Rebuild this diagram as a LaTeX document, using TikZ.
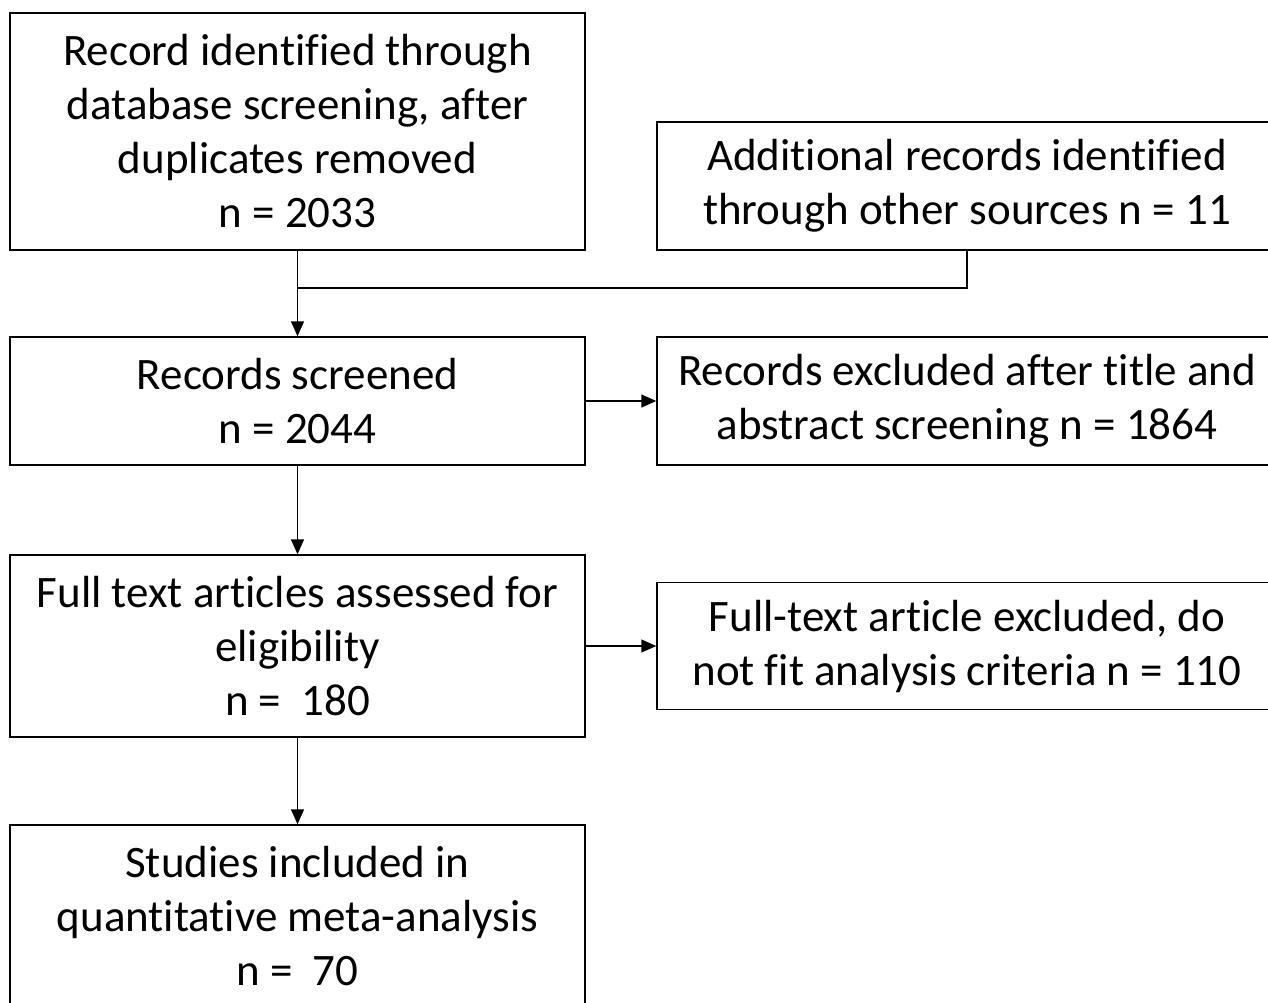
\documentclass[tikz,border=0pt]{standalone}
\usepackage{fontspec}
\setmainfont[Ligatures={NoCommon,NoContextual},RawFeature={-liga;-clig;-calt;-rlig}]{Carlito}
\usetikzlibrary{arrows.meta}
\tikzset{
  stage/.style={draw, line width=1.5pt, align=center, inner sep=0pt,
    font=\fontsize{45}{54}\selectfont},
  leftbox/.style={stage, minimum width=575pt},
  rightbox/.style={stage, minimum width=620pt},
  flow/.style={line width=1.5pt, -{Triangle[length=15pt,width=13pt]}}
}
\begin{document}
\begin{tikzpicture}[x=1pt,y=-1pt]
			%%%%% START %%%%%
			\useasboundingbox (0,0) rectangle (1268,1002);
			\clip (0,0) rectangle (1268,1002);
			
			\node[leftbox, minimum height=237pt] (ident) at (297.5, 131.5)
			  {Record identified through\\database screening, after\\duplicates removed\\n = 2033};
			\node[rightbox, minimum height=128pt] (other) at (967, 186)
			  {Additional records identified\\through other sources n = 11};
			
			\node[leftbox, minimum height=128pt] (screen) at (297.5, 401)
			  {Records screened\\n = 2044};
			\node[rightbox, minimum height=128pt] (exclA) at (967, 401)
			  {Records excluded after title and\\abstract screening n = 1864};
			
			\node[leftbox, minimum height=182pt] (full) at (297.5, 646)
			  {Full text articles assessed for\\eligibility\\n = \ 180};
			\node[rightbox, minimum height=127pt] (exclB) at (967, 646)
			  {Full-text article excluded, do\\not fit analysis criteria n = 110};
			
			\node[leftbox, minimum height=182pt] (incl) at (297.5, 916)
			  {Studies included in\\quantitative meta-analysis\\n = \ 70};
			
			\coordinate (join) at (297.5, 288);
			\draw[line width=1.5pt] (other.south) |- (join);
			\draw[flow] (ident.south) -- (screen.north);
			\draw[flow] (screen.east) -- (exclA.west);
			\draw[flow] (screen.south) -- (full.north);
			\draw[flow] (full.east) -- (exclB.west);
			\draw[flow] (full.south) -- (incl.north);
			
			%%%%% END %%%%%
\end{tikzpicture}
\end{document}
